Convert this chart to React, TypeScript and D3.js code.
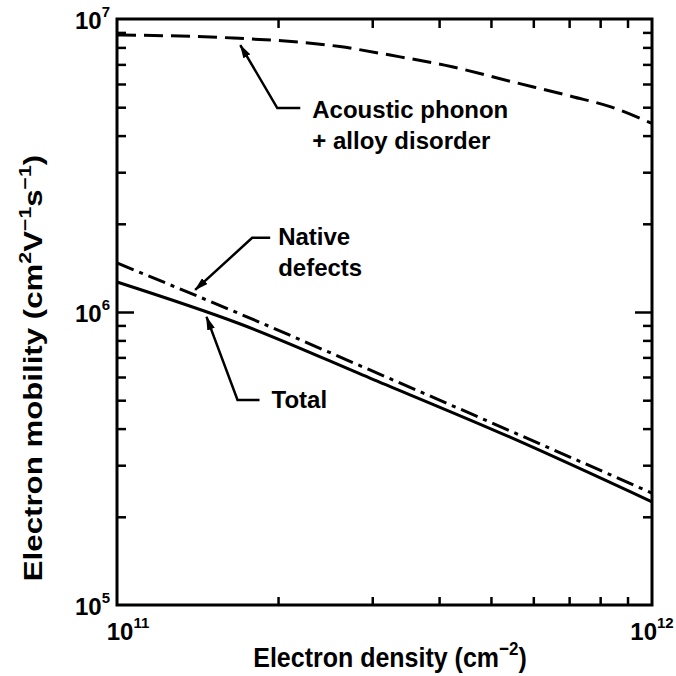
import React, { useRef, useEffect } from "react";
import * as d3 from "d3";

// electron density (cm^-2) / electron mobility (cm^2 V^-1 s^-1)
const densityAcoustic = [1e11, 1.65e11, 2.61e11, 3.24e11, 4.23e11, 5.47e11, 7.11e11, 8.35e11, 1e12];
const mobilityAcoustic = [8.82e6, 8.61e6, 8.05e6, 7.53e6, 6.87e6, 6.11e6, 5.43e6, 5.02e6, 4.4e6];

const densityNative = [1e11, 1.7e11, 2.97e11, 5.43e11, 1e12];
const mobilityNative = [1.47e6, 9.84e5, 6.34e5, 3.93e5, 2.41e5];

const densityTotal = [1e11, 1.7e11, 2.97e11, 5.43e11, 1e12];
const mobilityTotal = [1.266e6, 9.1e5, 5.95e5, 3.74e5, 2.25e5];

const xTickExp = ["11", "12"];
const yTickExp = ["5", "6", "7"];

const App = () => {
  const svgRef = useRef<SVGSVGElement>(null);

  useEffect(() => {
    const svg = d3.select(svgRef.current);
    svg.selectAll("*").remove();
    const left = 117,
      right = 652,
      top = 19,
      bottom = 605;
    const font = "'Liberation Sans', Arial, Helvetica, sans-serif";

    const x = d3.scaleLog().domain([1e11, 1e12]).range([left, right]);
    const y = d3.scaleLog().domain([1e5, 1e7]).range([bottom, top]);

    svg
      .append("defs")
      .append("marker")
      .attr("id", "head")
      .attr("viewBox", "0 0 14 8")
      .attr("markerUnits", "userSpaceOnUse")
      .attr("markerWidth", 14)
      .attr("markerHeight", 8)
      .attr("refX", 13)
      .attr("refY", 4)
      .attr("orient", "auto")
      .append("path")
      .attr("d", "M0,0 L14,4 L0,8 Z")
      .attr("fill", "#000");

    // ticks, all pointing inward
    const xMinor = x.ticks().filter((d) => d !== 1e11 && d !== 1e12);
    const yAll = y.ticks().filter((d) => d !== 1e5 && d !== 1e7);
    const isMajor = (d) => Math.abs(Math.log10(d) % 1) < 1e-9;

    const styleTicks = (g) => {
      g.select(".domain").remove();
      g.selectAll("line").attr("stroke", "#000").attr("stroke-width", 2.5);
    };
    svg
      .append("g")
      .attr("transform", `translate(0,${bottom})`)
      .call(d3.axisBottom(x).tickValues(xMinor).tickSize(-8).tickFormat(() => ""))
      .call(styleTicks);
    svg
      .append("g")
      .attr("transform", `translate(0,${top})`)
      .call(d3.axisTop(x).tickValues(xMinor).tickSize(-9).tickFormat(() => ""))
      .call(styleTicks);
    svg
      .append("g")
      .attr("transform", `translate(${left},0)`)
      .call(d3.axisLeft(y).tickValues(yAll).tickSize(-9).tickFormat(() => ""))
      .call(styleTicks)
      .selectAll(".tick line")
      .attr("x2", (d) => (isMajor(d) ? 17 : 9));
    svg
      .append("g")
      .attr("transform", `translate(${right},0)`)
      .call(d3.axisRight(y).tickValues(yAll).tickSize(-9).tickFormat(() => ""))
      .call(styleTicks)
      .selectAll(".tick line")
      .attr("x2", (d) => (isMajor(d) ? -17 : -9));

    svg
      .append("rect")
      .attr("x", left)
      .attr("y", top)
      .attr("width", right - left)
      .attr("height", bottom - top)
      .attr("fill", "none")
      .attr("stroke", "#000")
      .attr("stroke-width", 3);

    // curves
    const line = d3
      .line()
      .x((d) => x(d[0]))
      .y((d) => y(d[1]))
      .curve(d3.curveMonotoneX);
    const plot = (xs, ys, dash) =>
      svg
        .append("path")
        .attr("d", line(xs.map((v, i) => [v, ys[i]])))
        .attr("fill", "none")
        .attr("stroke", "#000")
        .attr("stroke-width", 3)
        .attr("stroke-dasharray", dash);
    plot(densityAcoustic, mobilityAcoustic, "19 8");
    plot(densityNative, mobilityNative, "18 6 4 6");
    plot(densityTotal, mobilityTotal, null);

    // tick labels
    const labels = (g, items) => {
      items.forEach((it) => {
        const t = g
          .append("text")
          .attr("x", it.x)
          .attr("y", it.y)
          .attr("text-anchor", it.anchor)
          .attr("font-family", font)
          .attr("font-weight", "bold")
          .attr("font-size", 24);
        t.append("tspan").text("10");
        t.append("tspan").attr("font-size", 15).attr("dy", -12).text(it.exp);
      });
    };
    const lab = svg.append("g");
    labels(
      lab,
      yTickExp.map((e) => ({ x: 110, y: y(Math.pow(10, +e)) + 10, anchor: "end", exp: e }))
    );
    labels(
      lab,
      xTickExp.map((e, i) => ({
        x: x(Math.pow(10, +e)) + (i === 0 ? 11 : 0),
        y: 640,
        anchor: "middle",
        exp: e,
      }))
    );

    // axis titles
    const xt = svg
      .append("text")
      .attr("transform", "translate(390,667) scale(1,1.12)")
      .attr("text-anchor", "middle")
      .attr("font-family", font)
      .attr("font-weight", "bold")
      .attr("font-size", 25);
    xt.append("tspan").text("Electron density (cm");
    xt.append("tspan").attr("font-size", 17).attr("dy", -11).text("−2");
    xt.append("tspan").attr("dy", 11).text(")");

    const yt = svg
      .append("text")
      .attr("transform", "translate(42,368) rotate(-90) scale(1.25,1)")
      .attr("text-anchor", "middle")
      .attr("font-family", font)
      .attr("font-weight", "bold")
      .attr("font-size", 25);
    yt.append("tspan").text("Electron mobility (cm");
    yt.append("tspan").attr("font-size", 17).attr("dy", -11).text("2");
    yt.append("tspan").attr("dy", 11).text("V");
    yt.append("tspan").attr("font-size", 17).attr("dy", -11).text("−1");
    yt.append("tspan").attr("dy", 11).text("s");
    yt.append("tspan").attr("font-size", 17).attr("dy", -11).text("−1");
    yt.append("tspan").attr("dy", 11).text(")");

    // annotations: arrow tip anchored in data coordinates
    const notes = [
      { tip: [1.7e11, 8.15e6], elbow: [37, 63], end: [60, 63], lines: ["Acoustic phonon", "+ alloy disorder"], tx: 72, ty: 73 },
      { tip: [1.4e11, 1.19e6], elbow: [57, -52], end: [75, -52], lines: ["Native", "defects"], tx: 83, ty: -45 },
      { tip: [1.47e11, 9.62e5], elbow: [31, 83], end: [53, 83], lines: ["Total"], tx: 65, ty: 91 },
    ];
    notes.forEach((n) => {
      const px = x(n.tip[0]);
      const py = y(n.tip[1]);
      svg
        .append("polyline")
        .attr("points", [
          [px + n.end[0], py + n.end[1]],
          [px + n.elbow[0], py + n.elbow[1]],
          [px, py],
        ].map((p) => p.join(",")).join(" "))
        .attr("fill", "none")
        .attr("stroke", "#000")
        .attr("stroke-width", 2.5)
        .attr("marker-end", "url(#head)");
      const t = svg
        .append("text")
        .attr("font-family", font)
        .attr("font-weight", "bold")
        .attr("font-size", 24);
      n.lines.forEach((s, i) =>
        t
          .append("tspan")
          .attr("x", px + n.tx)
          .attr("y", py + n.ty + i * 31)
          .text(s)
      );
    });
  }, []);

  return (
    <svg
      ref={svgRef}
      width={676}
      height={676}
      style={{ position: "absolute", left: 0, top: 0, background: "#fff" }}
    ></svg>
  );
};

export default App;
